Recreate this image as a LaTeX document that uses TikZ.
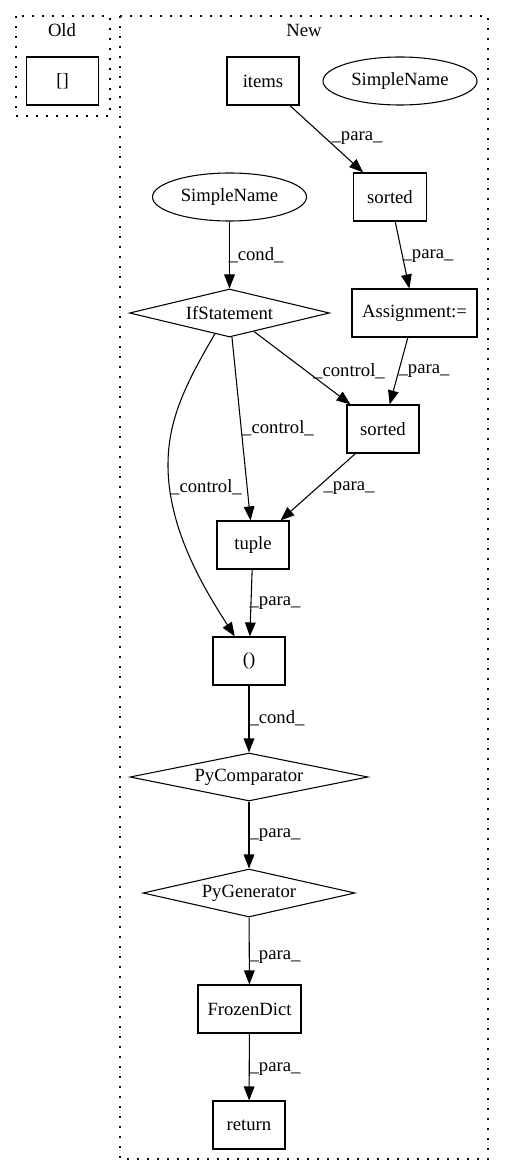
\documentclass[tikz,border=0pt]{standalone}
\usepackage{fontspec}
\setmainfont{Liberation Serif}
\usetikzlibrary{shapes.geometric,arrows.meta}
\begin{document}
\begin{tikzpicture}[x=0.75pt,y=-0.75pt,
  every node/.style={font=\fontsize{14}{16}\selectfont},
  box/.style={draw,line width=0.8pt,rectangle,minimum width=#1*0.75pt,minimum height=36pt,inner sep=0pt},
  ell/.style={draw,line width=0.8pt,ellipse,minimum width=115.5pt,minimum height=36pt,inner sep=0pt},
  dia/.style={draw,line width=0.8pt,diamond,aspect=4,minimum width=#1*0.75pt,minimum height=36pt,inner sep=0pt},
  cluster/.style={draw,line width=0.9pt,dash pattern=on 1.5pt off 6pt},
  edge/.style={draw,line width=0.8pt,-{Triangle[length=10.5pt,width=8pt]}},
  lbl/.style={inner sep=0pt}
]
\useasboundingbox (0,0) rectangle (504,1176);
% clusters
\draw[cluster] (16,16) rectangle (110,116);
\draw[cluster] (120,16) rectangle (488,1159);
\node[lbl] (oldlbl) at (62,30) {Old};
\node[lbl] (newlbl) at (304,30) {New};
% nodes
\node[box=72] (br) at (62.5,81) {[]};
\node[box=72] (items) at (263,81) {items};
\node[ell] (sn1) at (400,81) {SimpleName};
\node[ell] (sn2) at (229.5,197) {SimpleName};
\node[box=73] (sorted1) at (390,197) {sorted};
\node[dia=200] (ifs) at (229.5,313) {IfStatement};
\node[box=125] (assign) at (414.5,313) {Assignment:=};
\node[box=72] (sorted2) at (383,429) {sorted};
\node[box=72] (tuple) at (253,545) {tuple};
\node[box=72] (par) at (249,661) {()};
\node[dia=238] (pycomp) at (249,777) {PyComparator};
\node[dia=212] (pygen) at (249,893) {PyGenerator};
\node[box=103] (fdict) at (249.5,1009) {FrozenDict};
\node[box=72] (ret) at (249,1125) {return};
% edges
\draw[edge] (items) -- (sorted1);
\draw[edge] (sorted1) -- (assign);
\draw[edge] (sn2) -- (ifs);
\draw[edge] (ifs) -- (sorted2);
\draw[edge] (assign) -- (sorted2);
\draw[edge] (ifs) -- (tuple);
\draw[edge] (ifs.235) .. controls (185,385) and (168,420) .. (168,465) .. controls (168,530) and (205,590) .. (par.120);
\draw[edge] (sorted2) -- (tuple);
\draw[edge] (tuple) -- (par);
\draw[edge] (par) -- (pycomp);
\draw[edge] (pycomp) -- (pygen);
\draw[edge] (pygen) -- (fdict);
\draw[edge] (fdict) -- (ret);
% edge labels
\node[lbl] (l1) at (357,138) {\_para\_};
\node[lbl] (l2) at (428,256) {\_para\_};
\node[lbl] (l3) at (256,255) {\_cond\_};
\node[lbl] (l4) at (349,371) {\_control\_};
\node[lbl] (l5) at (424,371) {\_para\_};
\node[lbl] (l6) at (278,428) {\_control\_};
\node[lbl] (l7) at (206,487) {\_control\_};
\node[lbl] (l8) at (349,488) {\_para\_};
\node[lbl] (l9) at (275,603) {\_para\_};
\node[lbl] (l10) at (277,718) {\_cond\_};
\node[lbl] (l11) at (275,835) {\_para\_};
\node[lbl] (l12) at (275,957) {\_para\_};
\node[lbl] (l13) at (275,1069) {\_para\_};
\end{tikzpicture}
\end{document}
